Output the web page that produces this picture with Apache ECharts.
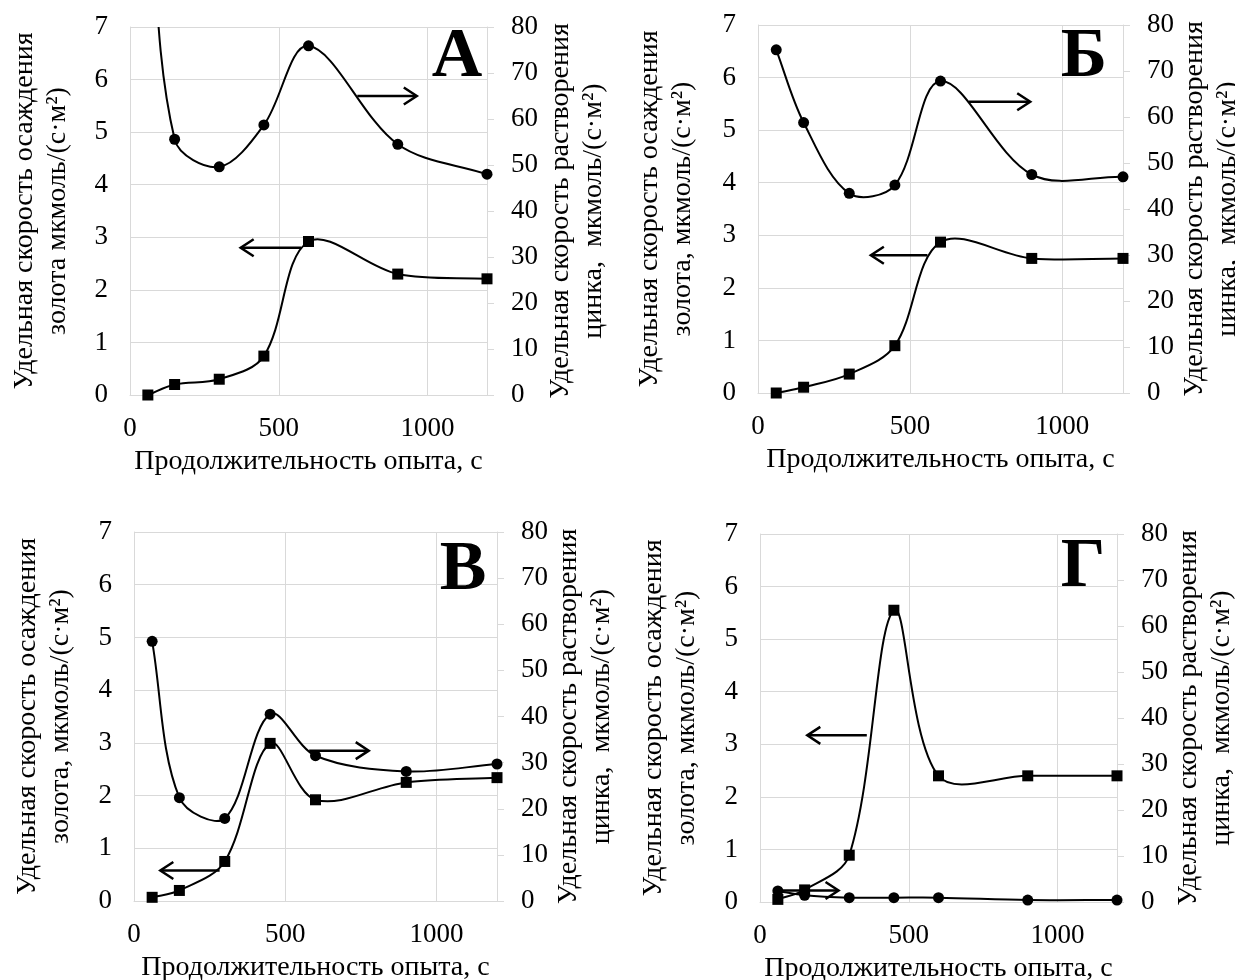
<!DOCTYPE html>
<html>
<head>
<meta charset="utf-8">
<script src="https://cdn.jsdelivr.net/npm/echarts@6/dist/echarts.min.js"></script>
<style>
  html, body { margin: 0; padding: 0; background: #ffffff; }
  #main { width: 1235px; height: 980px; }
</style>
</head>
<body>
<div id="main"></div>
<script>
// Experiment duration, s (common abscissa of all four panels)
const durations = [60, 150, 300, 450, 600, 900, 1200];

// Specific gold deposition rate, µmol/(s·m²) — left axis (squares)
const goldA = [0.00, 0.20, 0.30, 0.74, 2.92, 2.30, 2.21];
const goldB = [0.00, 0.11, 0.36, 0.90, 2.87, 2.56, 2.56];
const goldV = [0.07, 0.20, 0.75, 2.99, 1.92, 2.25, 2.34];
const goldG = [0.05, 0.23, 0.89, 5.55, 2.40, 2.40, 2.40];

// Specific zinc dissolution rate, µmol/(s·m²) — right axis (circles)
const zincA = [115, 55.6, 49.6, 58.7, 75.9, 54.5, 48.0];
const zincB = [74.6, 58.8, 43.4, 45.2, 67.8, 47.5, 47.0];
const zincV = [56.3, 22.4, 17.9, 40.5, 31.5, 28.1, 29.7];
const zincG = [2.4, 1.46, 0.95, 0.95, 0.95, 0.43, 0.43];

// Pointer arrows: [xFrom, xTo, y] in the units of the axis the arrow refers to
const goldArrowA = [576, 372, 2.80];
const goldArrowB = [557, 371, 2.62];
const goldArrowV = [283, 87, 0.58];
const goldArrowG = [359, 159, 3.17];
const zincArrowA = [764, 964, 65.0];
const zincArrowB = [693, 895, 63.3];
const zincArrowV = [579, 776, 32.6];
const zincArrowG = [47, 264, 2.5];

// Axis ranges and tick steps
const xRange = [0, 1200];
const xStep = 500;
const goldRange = [0, 7];
const goldStep = 1;
const zincRange = [0, 80];
const zincStep = 10;

// Texts
const panelLetters = ['А', 'Б', 'В', 'Г'];
const goldTitleA = 'Удельная скорость осаждения\nзолота мкмоль/(с·м²)';
const goldTitle = 'Удельная скорость осаждения\nзолота, мкмоль/(с·м²)';
const zincTitle = 'Удельная скорость растворения\nцинка,  мкмоль/(с·м²)';
const xTitle = 'Продолжительность опыта, с';

const panels = [
  { gold: goldA, zinc: zincA, goldArrow: goldArrowA, zincArrow: zincArrowA, goldName: goldTitleA },
  { gold: goldB, zinc: zincB, goldArrow: goldArrowB, zincArrow: zincArrowB, goldName: goldTitle },
  { gold: goldV, zinc: zincV, goldArrow: goldArrowV, zincArrow: zincArrowV, goldName: goldTitle },
  { gold: goldG, zinc: zincG, goldArrow: goldArrowG, zincArrow: zincArrowG, goldName: goldTitle }
];

// Panel layout (pixels)
const layout = [
  { left: 130, top: 27,  width: 357, height: 368, gapL: 56, gapR: 57, letterDx: 30, letterDy: 31 },
  { left: 758, top: 25,  width: 365, height: 368, gapL: 59, gapR: 49, letterDx: 39, letterDy: 33 },
  { left: 134, top: 532, width: 363, height: 369, gapL: 57, gapR: 54, letterDx: 34, letterDy: 39 },
  { left: 760, top: 534, width: 357, height: 368, gapL: 57, gapR: 50, letterDx: 34, letterDy: 34 }
];

const FONT = "'Liberation Serif', 'Times New Roman', serif";
const GRID_GRAY = '#d9d9d9';
const INK = '#000000';
const TENSION = 0.34;

const tickText = { fontFamily: FONT, fontSize: 27, color: INK };
const titleText = { fontFamily: FONT, fontSize: 28, color: INK };

// Smoothed curve through the measured points: each item draws the cubic
// segment to the next point, with tangents taken from the neighbours
function splineRenderer(xs, ys) {
  return function (params, api) {
    const k = params.dataIndex;
    if (k >= xs.length - 1) return null;
    const P = (j) => api.coord([xs[Math.max(0, Math.min(xs.length - 1, j))], ys[Math.max(0, Math.min(ys.length - 1, j))]]);
    const p0 = P(k - 1), p1 = P(k), p2 = P(k + 1), p3 = P(k + 2);
    const dist = (a, b) => Math.hypot(b[0] - a[0], b[1] - a[1]) || 1e-6;
    const l01 = dist(p0, p1), l12 = dist(p1, p2), l23 = dist(p2, p3);
    const r1 = k === 0 ? 1 : l12 / (l01 + l12);
    const r2 = k + 1 >= xs.length - 1 ? 1 : l12 / (l12 + l23);
    const c1 = [p1[0] + (p2[0] - p0[0]) * TENSION * r1, p1[1] + (p2[1] - p0[1]) * TENSION * r1];
    const c2 = [p2[0] - (p3[0] - p1[0]) * TENSION * r2, p2[1] - (p3[1] - p1[1]) * TENSION * r2];
    return {
      type: 'bezierCurve',
      shape: { x1: p1[0], y1: p1[1], cpx1: c1[0], cpy1: c1[1], cpx2: c2[0], cpy2: c2[1], x2: p2[0], y2: p2[1] },
      style: { stroke: INK, lineWidth: 2, fill: null },
      silent: true
    };
  };
}

const grid = [], xAxis = [], yAxis = [], series = [];

panels.forEach((p, i) => {
  const L = layout[i];
  grid.push({ left: L.left, top: L.top, width: L.width, height: L.height, outerBoundsMode: 'none', containLabel: false });

  xAxis.push({
    gridIndex: i, type: 'value', min: xRange[0], max: xRange[1], interval: xStep,
    axisLine: { show: true, onZero: false, lineStyle: { color: GRID_GRAY, width: 1 } },
    axisTick: { show: false },
    splitLine: { show: true, lineStyle: { color: GRID_GRAY, width: 1 } },
    axisLabel: Object.assign({ margin: 20, showMaxLabel: false, formatter: (v) => String(v) }, tickText),
    name: xTitle, nameLocation: 'middle', nameGap: 53,
    nameTextStyle: titleText
  });

  yAxis.push({
    gridIndex: i, type: 'value', position: 'left', min: goldRange[0], max: goldRange[1], interval: goldStep,
    axisLine: { show: true, onZero: false, lineStyle: { color: GRID_GRAY, width: 1 } },
    axisTick: { show: false },
    splitLine: { show: true, lineStyle: { color: GRID_GRAY, width: 1 } },
    axisLabel: Object.assign({ margin: 22 }, tickText),
    name: p.goldName, nameLocation: 'middle', nameRotate: 90, nameGap: L.gapL,
    nameTextStyle: Object.assign({ lineHeight: 33, align: 'center' }, titleText)
  });

  yAxis.push({
    gridIndex: i, type: 'value', position: 'right', min: zincRange[0], max: zincRange[1], interval: zincStep,
    axisLine: { show: true, onZero: false, lineStyle: { color: GRID_GRAY, width: 1 } },
    axisTick: { show: true, inside: false, length: 7, lineStyle: { color: GRID_GRAY, width: 1 } },
    splitLine: { show: false },
    axisLabel: Object.assign({ margin: 24 }, tickText),
    name: zincTitle, nameLocation: 'middle', nameRotate: 90, nameGap: L.gapR,
    nameTextStyle: Object.assign({ lineHeight: 33, align: 'center' }, titleText)
  });

  const zincPts = durations.map((t, k) => [t, p.zinc[k]]);
  const goldPts = durations.map((t, k) => [t, p.gold[k]]);

  series.push({
    type: 'custom', name: 'zincCurve' + i, xAxisIndex: i, yAxisIndex: 2 * i + 1,
    data: zincPts, clip: true, silent: true,
    renderItem: splineRenderer(durations, p.zinc), z: 3
  });
  series.push({
    type: 'custom', name: 'goldCurve' + i, xAxisIndex: i, yAxisIndex: 2 * i,
    data: goldPts, clip: true, silent: true,
    renderItem: splineRenderer(durations, p.gold), z: 3
  });
  series.push({
    type: 'scatter', name: 'zinc' + i, xAxisIndex: i, yAxisIndex: 2 * i + 1,
    data: zincPts, clip: true, silent: true,
    symbol: 'circle', symbolSize: 11,
    itemStyle: { color: INK, opacity: 1 }, z: 4
  });
  series.push({
    type: 'scatter', name: 'gold' + i, xAxisIndex: i, yAxisIndex: 2 * i,
    data: goldPts, clip: true, silent: true,
    symbol: 'rect', symbolSize: 11,
    itemStyle: { color: INK, opacity: 1 }, z: 5
  });
});

const chart = echarts.init(document.getElementById('main'), null, { renderer: 'canvas' });
chart.setOption({
  animation: false,
  backgroundColor: '#ffffff',
  textStyle: { fontFamily: FONT },
  grid, xAxis, yAxis, series
});

// Arrows and panel letters, positioned through the axes' own scales
function arrow(xAxisIndex, yAxisIndex, spec) {
  const a = chart.convertToPixel({ xAxisIndex, yAxisIndex }, [spec[0], spec[2]]);
  const b = chart.convertToPixel({ xAxisIndex, yAxisIndex }, [spec[1], spec[2]]);
  const dir = b[0] >= a[0] ? 1 : -1;
  const head = 13, spread = 8.5;
  const style = { stroke: INK, lineWidth: 2.5, fill: null, lineJoin: 'miter', lineCap: 'butt' };
  return [
    { type: 'line', shape: { x1: a[0], y1: a[1], x2: b[0] - dir * 1, y2: b[1] }, style, z: 10, silent: true },
    { type: 'polyline', shape: { points: [[b[0] - dir * head, b[1] - spread], [b[0], b[1]], [b[0] - dir * head, b[1] + spread]] }, style, z: 10, silent: true }
  ];
}

const graphic = [];
panels.forEach((p, i) => {
  graphic.push(...arrow(i, 2 * i, p.goldArrow));
  graphic.push(...arrow(i, 2 * i + 1, p.zincArrow));
  const L = layout[i];
  graphic.push({
    type: 'text',
    x: L.left + L.width - L.letterDx,
    y: L.top + L.letterDy,
    style: { text: panelLetters[i], font: "bold 70px 'Liberation Serif', 'Times New Roman', serif", fill: INK, textAlign: 'center', textVerticalAlign: 'middle' },
    z: 10, silent: true
  });
});
chart.setOption({ graphic });
</script>
</body>
</html>
